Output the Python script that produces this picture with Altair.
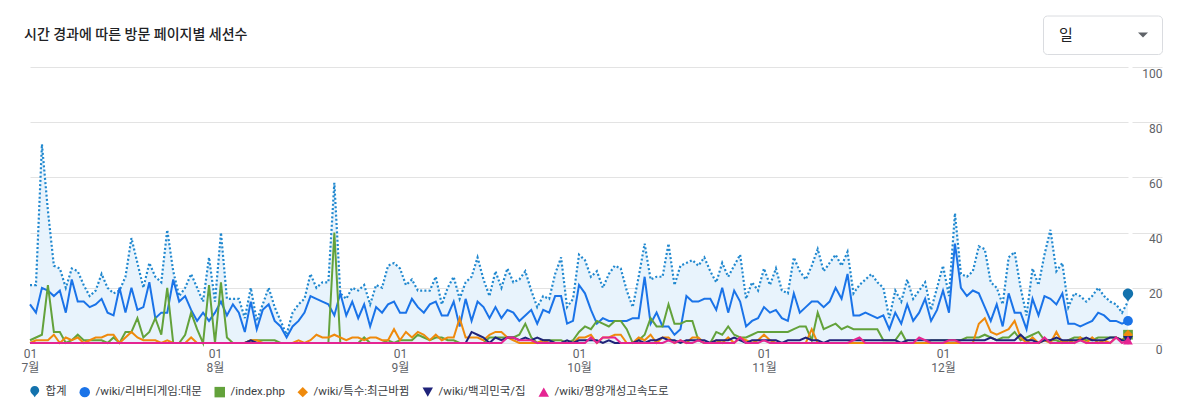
import altair as alt
import pandas as pd

# ---------------- data ----------------
start_date = "2023-07-01"
n_days = 185
dates = pd.date_range(start_date, periods=n_days, freq="D").strftime("%Y-%m-%d").tolist()

total = [21, 21, 72, 48, 28, 27, 20, 27, 26, 21,
         17, 19, 25, 20, 18, 19, 24, 38, 29, 20,
         29, 24, 22, 41, 26, 17, 20, 25, 20, 15,
         31, 15, 40, 16, 16, 16, 9, 20, 8, 14,
         20, 13, 8, 3, 11, 14, 16, 25, 20, 22,
         22, 58, 18, 16, 20, 19, 21, 14, 21, 20,
         28, 29, 27, 21, 23, 19, 19, 19, 24, 14,
         20, 24, 16, 22, 24, 31, 23, 17, 26, 20,
         27, 22, 23, 26, 19, 13, 17, 16, 25, 31,
         13, 16, 32, 30, 24, 26, 20, 25, 28, 27,
         19, 13, 24, 36, 23, 24, 24, 36, 21, 28,
         29, 30, 28, 31, 26, 22, 29, 24, 28, 32,
         16, 22, 19, 27, 21, 27, 19, 18, 31, 26,
         23, 28, 34, 26, 29, 32, 28, 33, 18, 21,
         23, 25, 22, 20, 9, 19, 15, 23, 16, 19,
         22, 12, 20, 28, 17, 47, 25, 24, 26, 35,
         34, 22, 20, 14, 31, 33, 20, 10, 27, 21,
         32, 41, 26, 29, 13, 18, 17, 15, 17, 20,
         17, 15, 14, 11, 15]

main_page = [14, 11, 20, 19, 17, 19, 11, 23, 15, 15,
             13, 14, 16, 11, 10, 20, 11, 20, 12, 13,
             22, 9, 11, 11, 23, 15, 17, 12, 8, 11,
             8, 11, 15, 10, 14, 11, 4, 15, 5, 12,
             14, 8, 6, 2, 6, 8, 11, 17, 16, 15,
             14, 10, 18, 10, 15, 9, 14, 6, 13, 11,
             14, 15, 11, 11, 16, 13, 11, 14, 15, 10,
             10, 15, 6, 16, 8, 15, 13, 9, 13, 9,
             12, 11, 8, 10, 12, 7, 12, 11, 17, 17,
             7, 8, 21, 18, 12, 7, 9, 8, 8, 8,
             8, 9, 9, 24, 7, 11, 6, 6, 3, 5,
             17, 15, 15, 16, 16, 12, 20, 11, 19, 15,
             6, 8, 9, 13, 11, 12, 9, 8, 18, 11,
             13, 15, 15, 13, 15, 20, 16, 25, 10, 10,
             11, 10, 9, 10, 5, 11, 7, 14, 8, 11,
             16, 8, 12, 19, 11, 36, 20, 17, 19, 18,
             13, 8, 14, 6, 18, 11, 11, 5, 16, 10,
             17, 16, 14, 18, 7, 7, 6, 7, 8, 11,
             10, 8, 8, 7, 8]

index_php = [1, 2, 3, 21, 4, 4, 0, 1, 3, 1,
             1, 1, 1, 0, 2, 0, 4, 4, 9, 2,
             4, 9, 3, 20, 0, 0, 3, 11, 5, 0,
             21, 0, 22, 2, 0, 0, 0, 1, 1, 1,
             1, 1, 0, 0, 0, 0, 0, 0, 0, 0,
             0, 40, 0, 0, 0, 0, 2, 0, 0, 0,
             1, 0, 1, 1, 1, 3, 2, 1, 2, 2,
             1, 1, 0, 0, 0, 0, 0, 2, 2, 2,
             2, 2, 3, 7, 2, 0, 1, 1, 1, 1,
             0, 1, 4, 6, 5, 8, 7, 6, 8, 8,
             5, 0, 1, 3, 9, 6, 6, 14, 7, 7,
             8, 8, 1, 0, 0, 4, 3, 6, 3, 2,
             2, 3, 4, 4, 4, 4, 4, 4, 5, 6,
             6, 1, 11, 5, 6, 7, 5, 6, 5, 5,
             5, 5, 5, 1, 1, 1, 4, 0, 0, 0,
             0, 1, 1, 1, 1, 1, 1, 2, 2, 2,
             3, 2, 1, 2, 2, 4, 1, 2, 3, 4,
             1, 1, 1, 0, 1, 2, 2, 1, 1, 2,
             2, 2, 2, 1, 3]

recent_changes = [0, 1, 1, 1, 3, 0, 2, 1, 2, 0,
                  1, 2, 2, 3, 3, 0, 2, 4, 2, 1,
                  1, 1, 0, 1, 0, 0, 0, 2, 0, 0,
                  0, 0, 0, 0, 0, 0, 0, 1, 1, 0,
                  0, 0, 0, 0, 0, 1, 0, 1, 3, 2,
                  2, 3, 2, 1, 2, 2, 1, 2, 2, 1,
                  1, 5, 1, 4, 2, 4, 3, 1, 3, 1,
                  2, 2, 9, 2, 2, 2, 1, 3, 4, 4,
                  2, 1, 0, 0, 0, 0, 1, 0, 0, 0,
                  0, 0, 2, 2, 3, 0, 2, 2, 3, 3,
                  0, 0, 2, 1, 3, 0, 2, 2, 0, 1,
                  0, 2, 2, 0, 0, 1, 0, 2, 0, 2,
                  1, 0, 1, 3, 1, 0, 0, 0, 0, 0,
                  0, 5, 0, 0, 0, 0, 0, 0, 0, 0,
                  0, 0, 0, 0, 0, 0, 0, 0, 0, 0,
                  0, 0, 0, 0, 0, 0, 0, 0, 0, 7,
                  9, 4, 3, 4, 5, 8, 2, 0, 2, 0,
                  1, 0, 4, 0, 1, 0, 2, 0, 2, 0,
                  1, 0, 2, 1, 3]

house = [0, 0, 0, 0, 0, 0, 0, 0, 0, 0,
         0, 0, 0, 0, 0, 0, 0, 0, 0, 0,
         0, 0, 0, 0, 0, 0, 0, 0, 0, 0,
         0, 0, 0, 0, 0, 0, 0, 1, 0, 0,
         0, 0, 0, 0, 0, 0, 0, 0, 0, 0,
         0, 0, 0, 0, 0, 0, 0, 0, 0, 0,
         0, 0, 0, 0, 0, 0, 0, 0, 0, 0,
         0, 0, 0, 0, 4, 3, 2, 0, 2, 1,
         2, 2, 1, 2, 1, 2, 1, 1, 0, 0,
         1, 0, 1, 1, 1, 1, 0, 1, 0, 0,
         0, 0, 1, 0, 1, 1, 2, 1, 1, 0,
         1, 1, 1, 1, 0, 1, 1, 1, 2, 1,
         0, 1, 1, 1, 1, 1, 0, 1, 1, 1,
         2, 1, 1, 0, 1, 1, 1, 1, 1, 1,
         1, 1, 1, 1, 1, 1, 0, 1, 1, 1,
         1, 1, 1, 1, 1, 1, 1, 1, 1, 1,
         1, 2, 1, 1, 1, 1, 3, 1, 1, 0,
         1, 1, 2, 1, 1, 1, 1, 2, 1, 1,
         1, 2, 2, 1, 1]

highway = [0] * 80 + [
           2, 2, 1, 1, 1, 0, 0, 0, 0, 0,
           0, 0, 0, 0, 2, 0, 2, 2, 2, 0,
           0, 0, 0, 0, 0, 0, 0, 1, 0, 1,
           0, 0, 1, 0, 0, 0, 0, 0, 0, 2,
           0, 0, 0, 1, 0, 0, 0, 0, 0, 0,
           0, 0, 0, 0, 0, 0, 0, 0, 1, 2,
           0, 0, 0, 0, 0, 0, 0, 0, 0, 2,
           1, 0, 0, 0, 1, 1, 0, 0, 0, 0,
           0, 0, 0, 0, 0, 0, 0, 0, 0, 0,
           2, 0, 0, 0, 0, 0, 1, 0, 0, 0,
           0, 0, 2, 0, 1]

series_names = ["합계", "/wiki/리버티게임:대문", "/index.php",
                "/wiki/특수:최근바뀜", "/wiki/백괴민국/집", "/wiki/평양개성고속도로"]
series_values = [total, main_page, index_php, recent_changes, house, highway]
legend_colors = ["#1372ad", "#1a73e8", "#63a23b", "#ef8a0c", "#1f237a", "#e52592"]
line_colors = ["#2088cf", "#1a73e8", "#63a23b", "#ef8a0c", "#1f237a", "#e52592"]

y_ticks = [0, 20, 40, 60, 80, 100]
month_starts = ["2023-07-01", "2023-08-01", "2023-09-01", "2023-10-01", "2023-11-01", "2023-12-01"]

# ---------------- tables ----------------
rows = []
for name, vals in zip(series_names, series_values):
    for d, v in zip(dates, vals):
        rows.append({"date": d, "series": name, "value": v})
long_df = pd.DataFrame(rows)
last_df = long_df[long_df["date"] == dates[-1]].reset_index(drop=True)


def ms(s):
    return int(pd.Timestamp(s, tz="UTC").timestamp() * 1000)


FONT = "Roboto, 'Noto Sans CJK KR', sans-serif"
PIN = "M0,1 C-0.2,0.55 -0.85,0.2 -0.85,-0.3 A0.85,0.85 0 1 1 0.85,-0.3 C0.85,0.2 0.2,0.55 0,1 Z"
CARET = "M-1,-0.5 L1,-0.5 L0,0.5 Z"
shapes = [PIN, "circle", "square", "diamond", "triangle-down", "triangle-up"]

x_enc = alt.X(
    "date:T",
    scale=alt.Scale(type="utc", domain=[ms("2023-07-01"), ms("2024-01-01")]),
    axis=alt.Axis(
        values=[ms(m) for m in month_starts],
        labelExpr="['01', (utcmonth(datum.value) + 1) + '월']",
        labelFlush=True,
        labelAlign="center",
        labelBaseline="top",
        labelPadding=5,
        labelLineHeight=14,
        labelColor="#5f6368",
        labelFont=FONT,
        labelFontSize=12,
        domain=False,
        ticks=False,
        grid=False,
        title=None,
    ),
)
y_enc = alt.Y(
    "value:Q",
    scale=alt.Scale(domain=[0, 100], nice=False),
    axis=alt.Axis(
        orient="right",
        values=y_ticks,
        grid=True,
        gridColor="#e3e3e3",
        gridWidth=1,
        domain=False,
        ticks=True,
        tickSize=30,
        tickColor="#e3e3e3",
        offset=4,
        labelAlign="right",
        labelBaseline="top",
        labelPadding=0,
        labelOffset=1,
        labelColor="#5f6368",
        labelFont=FONT,
        labelFontSize=12,
        title=None,
    ),
)

base = alt.Chart(long_df)

area = base.transform_filter(alt.datum.series == series_names[0]).mark_area(
    color="#e8f3fc", opacity=1
).encode(x=x_enc, y=y_enc)

total_line = base.transform_filter(alt.datum.series == series_names[0]).mark_line(
    color=line_colors[0], strokeWidth=2.2, strokeDash=[2, 2.2]
).encode(x=x_enc, y=y_enc)

solid_lines = []
for name, col in zip(series_names[1:], line_colors[1:]):
    solid_lines.append(
        base.transform_filter(alt.datum.series == name).mark_line(
            color=col, strokeWidth=2
        ).encode(x=x_enc, y=y_enc)
    )

legend = alt.Legend(
    title=None,
    orient="none",
    legendX=-1,
    legendY=319,
    direction="horizontal",
    symbolSize=110,
    symbolStrokeWidth=0,
    labelFont=FONT,
    labelFontSize=11.5,
    labelColor="#3c4043",
    labelOffset=5,
    columnPadding=12,
)
color_enc = alt.Color("series:N", scale=alt.Scale(domain=series_names, range=legend_colors), legend=legend)
shape_enc = alt.Shape("series:N", scale=alt.Scale(domain=series_names, range=shapes), legend=legend)

end_pin = alt.Chart(last_df).transform_filter(alt.datum.series == series_names[0]).mark_point(
    filled=True, opacity=1, size=150, yOffset=-6
).encode(x=x_enc, y=y_enc, color=color_enc, shape=shape_enc)

end_marks = alt.Chart(last_df).transform_filter(alt.datum.series != series_names[0]).mark_point(
    filled=True, opacity=1, size=95
).encode(x=x_enc, y=y_enc, color=color_enc, shape=shape_enc)

# ---------------- header (title + period selector) ----------------
title_txt = alt.Chart(pd.DataFrame({"t": ["시간 경과에 따른 방문 페이지별 세션수"]})).mark_text(
    align="left", baseline="middle", font=FONT, fontSize=14, fontWeight=500, color="#202124"
).encode(text="t:N", x=alt.value(-6), y=alt.value(-32.5))

box = alt.Chart(pd.DataFrame({"k": [0]})).mark_rect(
    fill="white", stroke="#dadce0", strokeWidth=1, cornerRadius=4
).encode(x=alt.value(1013.5), x2=alt.value(1132.5), y=alt.value(-51), y2=alt.value(-12.5))

box_txt = alt.Chart(pd.DataFrame({"t": ["일"]})).mark_text(
    align="left", baseline="middle", font=FONT, fontSize=15, color="#202124"
).encode(text="t:N", x=alt.value(1029), y=alt.value(-32.3))

caret = alt.Chart(pd.DataFrame({"k": [0]})).mark_point(
    shape=CARET, filled=True, opacity=1, size=100, color="#5f6368"
).encode(x=alt.value(1113), y=alt.value(-32))

chart = alt.layer(
    area, total_line, *solid_lines, end_pin, end_marks, title_txt, box, box_txt, caret
).properties(
    width=1098,
    height=276,
    padding={"left": 22, "top": 59, "right": 48, "bottom": 60},
    autosize=alt.AutoSizeParams(type="none"),
    background="white",
).configure_view(stroke=None)

chart.save("out.html", embed_options={"renderer": "svg", "actions": False})
